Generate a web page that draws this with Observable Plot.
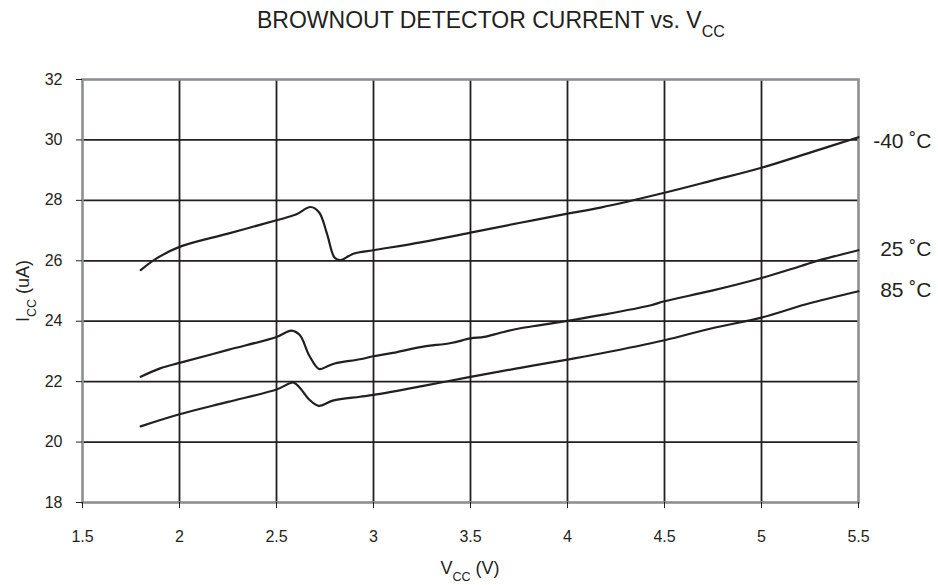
<!DOCTYPE html>
<html>
<head>
<meta charset="utf-8">
<script src="https://cdn.jsdelivr.net/npm/d3@7"></script>
<script src="https://cdn.jsdelivr.net/npm/@observablehq/plot@0.6"></script>
<style>
  html, body { margin: 0; padding: 0; background: #fff; }
  svg { font-family: "Liberation Sans", Arial, Helvetica, sans-serif; }
</style>
</head>
<body>
<div id="chart"></div>
<script>
// ---- data ----
const vccM40 = [1.8, 1.88, 2.0, 2.25, 2.5, 2.6, 2.675, 2.72, 2.76, 2.8, 2.83, 2.87, 2.9, 3.0, 3.25, 3.5, 3.75, 4.0, 4.17, 4.5, 4.75, 5.0, 5.23, 5.5];
const iccM40 = [25.69, 26.07, 26.46, 26.9, 27.34, 27.53, 27.78, 27.6, 26.9, 26.1, 26.02, 26.15, 26.24, 26.35, 26.62, 26.93, 27.25, 27.56, 27.76, 28.25, 28.66, 29.08, 29.54, 30.09];

const vcc25 = [1.8, 1.9, 2.0, 2.25, 2.5, 2.577, 2.62, 2.67, 2.72, 2.76, 2.8, 2.93, 3.0, 3.1, 3.25, 3.4, 3.5, 3.57, 3.65, 3.75, 3.86, 4.0, 4.17, 4.43, 4.5, 4.75, 5.0, 5.2, 5.3, 5.5];
const icc25 = [22.16, 22.44, 22.62, 23.05, 23.48, 23.69, 23.54, 22.85, 22.42, 22.5, 22.6, 22.74, 22.84, 22.95, 23.15, 23.28, 23.43, 23.48, 23.61, 23.76, 23.87, 24.01, 24.2, 24.53, 24.66, 25.02, 25.43, 25.82, 26.02, 26.35];

const vcc85 = [1.8, 2.0, 2.25, 2.5, 2.588, 2.62, 2.67, 2.717, 2.79, 2.93, 3.0, 3.25, 3.5, 3.75, 4.0, 4.17, 4.5, 4.74, 5.0, 5.23, 5.5];
const icc85 = [20.52, 20.92, 21.33, 21.74, 21.97, 21.8, 21.4, 21.2, 21.37, 21.5, 21.56, 21.85, 22.16, 22.45, 22.73, 22.93, 23.37, 23.76, 24.12, 24.56, 24.99];

const seriesNames = ["-40 ˚C", "25 ˚C", "85 ˚C"];
const xTicks = [1.5, 2, 2.5, 3, 3.5, 4, 4.5, 5, 5.5];
const yTicks = [18, 20, 22, 24, 26, 28, 30, 32];
const xGrid = [2, 2.5, 3, 3.5, 4, 4.5, 5];
const yGrid = [20, 22, 24, 26, 28, 30];

// ---- build table ----
const rows = [];
[[vccM40, iccM40], [vcc25, icc25], [vcc85, icc85]].forEach(([xs, ys], k) => {
  xs.forEach((v, i) => rows.push({series: seriesNames[k], vcc: v, icc: ys[i]}));
});
const lastPts = seriesNames.map(s => rows.filter(r => r.series === s).at(-1));

const W = 938, H = 585;
const chart = Plot.plot({
  width: W,
  height: H,
  marginLeft: 82,
  marginRight: 80,
  marginTop: 79,
  marginBottom: 83,
  style: {fontSize: "16px", fontFamily: "'Liberation Sans', Arial, sans-serif", color: "#231f20", background: "#fff"},
  x: {domain: [1.5, 5.5]},
  y: {domain: [18, 32]},
  marks: [
    Plot.ruleX(xGrid, {stroke: "#231f20", strokeWidth: 1.8}),
    Plot.ruleY(yGrid, {stroke: "#231f20", strokeWidth: 1.8}),
    Plot.frame({stroke: "#8d9093", strokeWidth: 2.6}),
    Plot.axisX({ticks: xTicks, tickFormat: d => String(d), tickSize: 6, tickPadding: 22, label: null, stroke: "#231f20", fontSize: 16}),
    Plot.axisY({ticks: yTicks, tickFormat: d => String(d), tickSize: 6, tickPadding: 14, label: null, stroke: "#231f20", fontSize: 16}),
    Plot.line(rows, {x: "vcc", y: "icc", z: "series", curve: "catmull-rom", stroke: "#231f20", strokeWidth: 2.2}),
    Plot.text(lastPts.slice(0, 1), {x: "vcc", y: "icc", text: "series", textAnchor: "end", dx: 73, dy: 4, fontSize: 21, fill: "#231f20"}),
    Plot.text(lastPts.slice(1), {x: "vcc", y: "icc", text: "series", textAnchor: "end", dx: 73, dy: -1, fontSize: 21, fill: "#231f20"})
  ]
});
document.getElementById("chart").appendChild(chart);

// ---- titles with subscripts ----
const svg = d3.select(chart);
function subText(g, main, sub, rest, size) {
  g.append("tspan").text(main);
  g.append("tspan").attr("baseline-shift", "sub").attr("font-size", size * 0.7).text(sub);
  if (rest) g.append("tspan").text(rest);
}
const t = svg.append("text")
  .attr("x", 491).attr("y", 28)
  .attr("text-anchor", "middle")
  .attr("font-size", 23)
  .attr("fill", "#231f20");
subText(t, "BROWNOUT DETECTOR CURRENT vs. V", "CC", null, 23);

const xl = svg.append("text")
  .attr("x", 470).attr("y", 574)
  .attr("text-anchor", "middle")
  .attr("font-size", 18)
  .attr("fill", "#231f20");
subText(xl, "V", "CC", " (V)", 18);

const yl = svg.append("text")
  .attr("transform", "translate(29,291) rotate(-90)")
  .attr("text-anchor", "middle")
  .attr("font-size", 18)
  .attr("fill", "#231f20");
subText(yl, "I", "CC", " (uA)", 18);
</script>
</body>
</html>
